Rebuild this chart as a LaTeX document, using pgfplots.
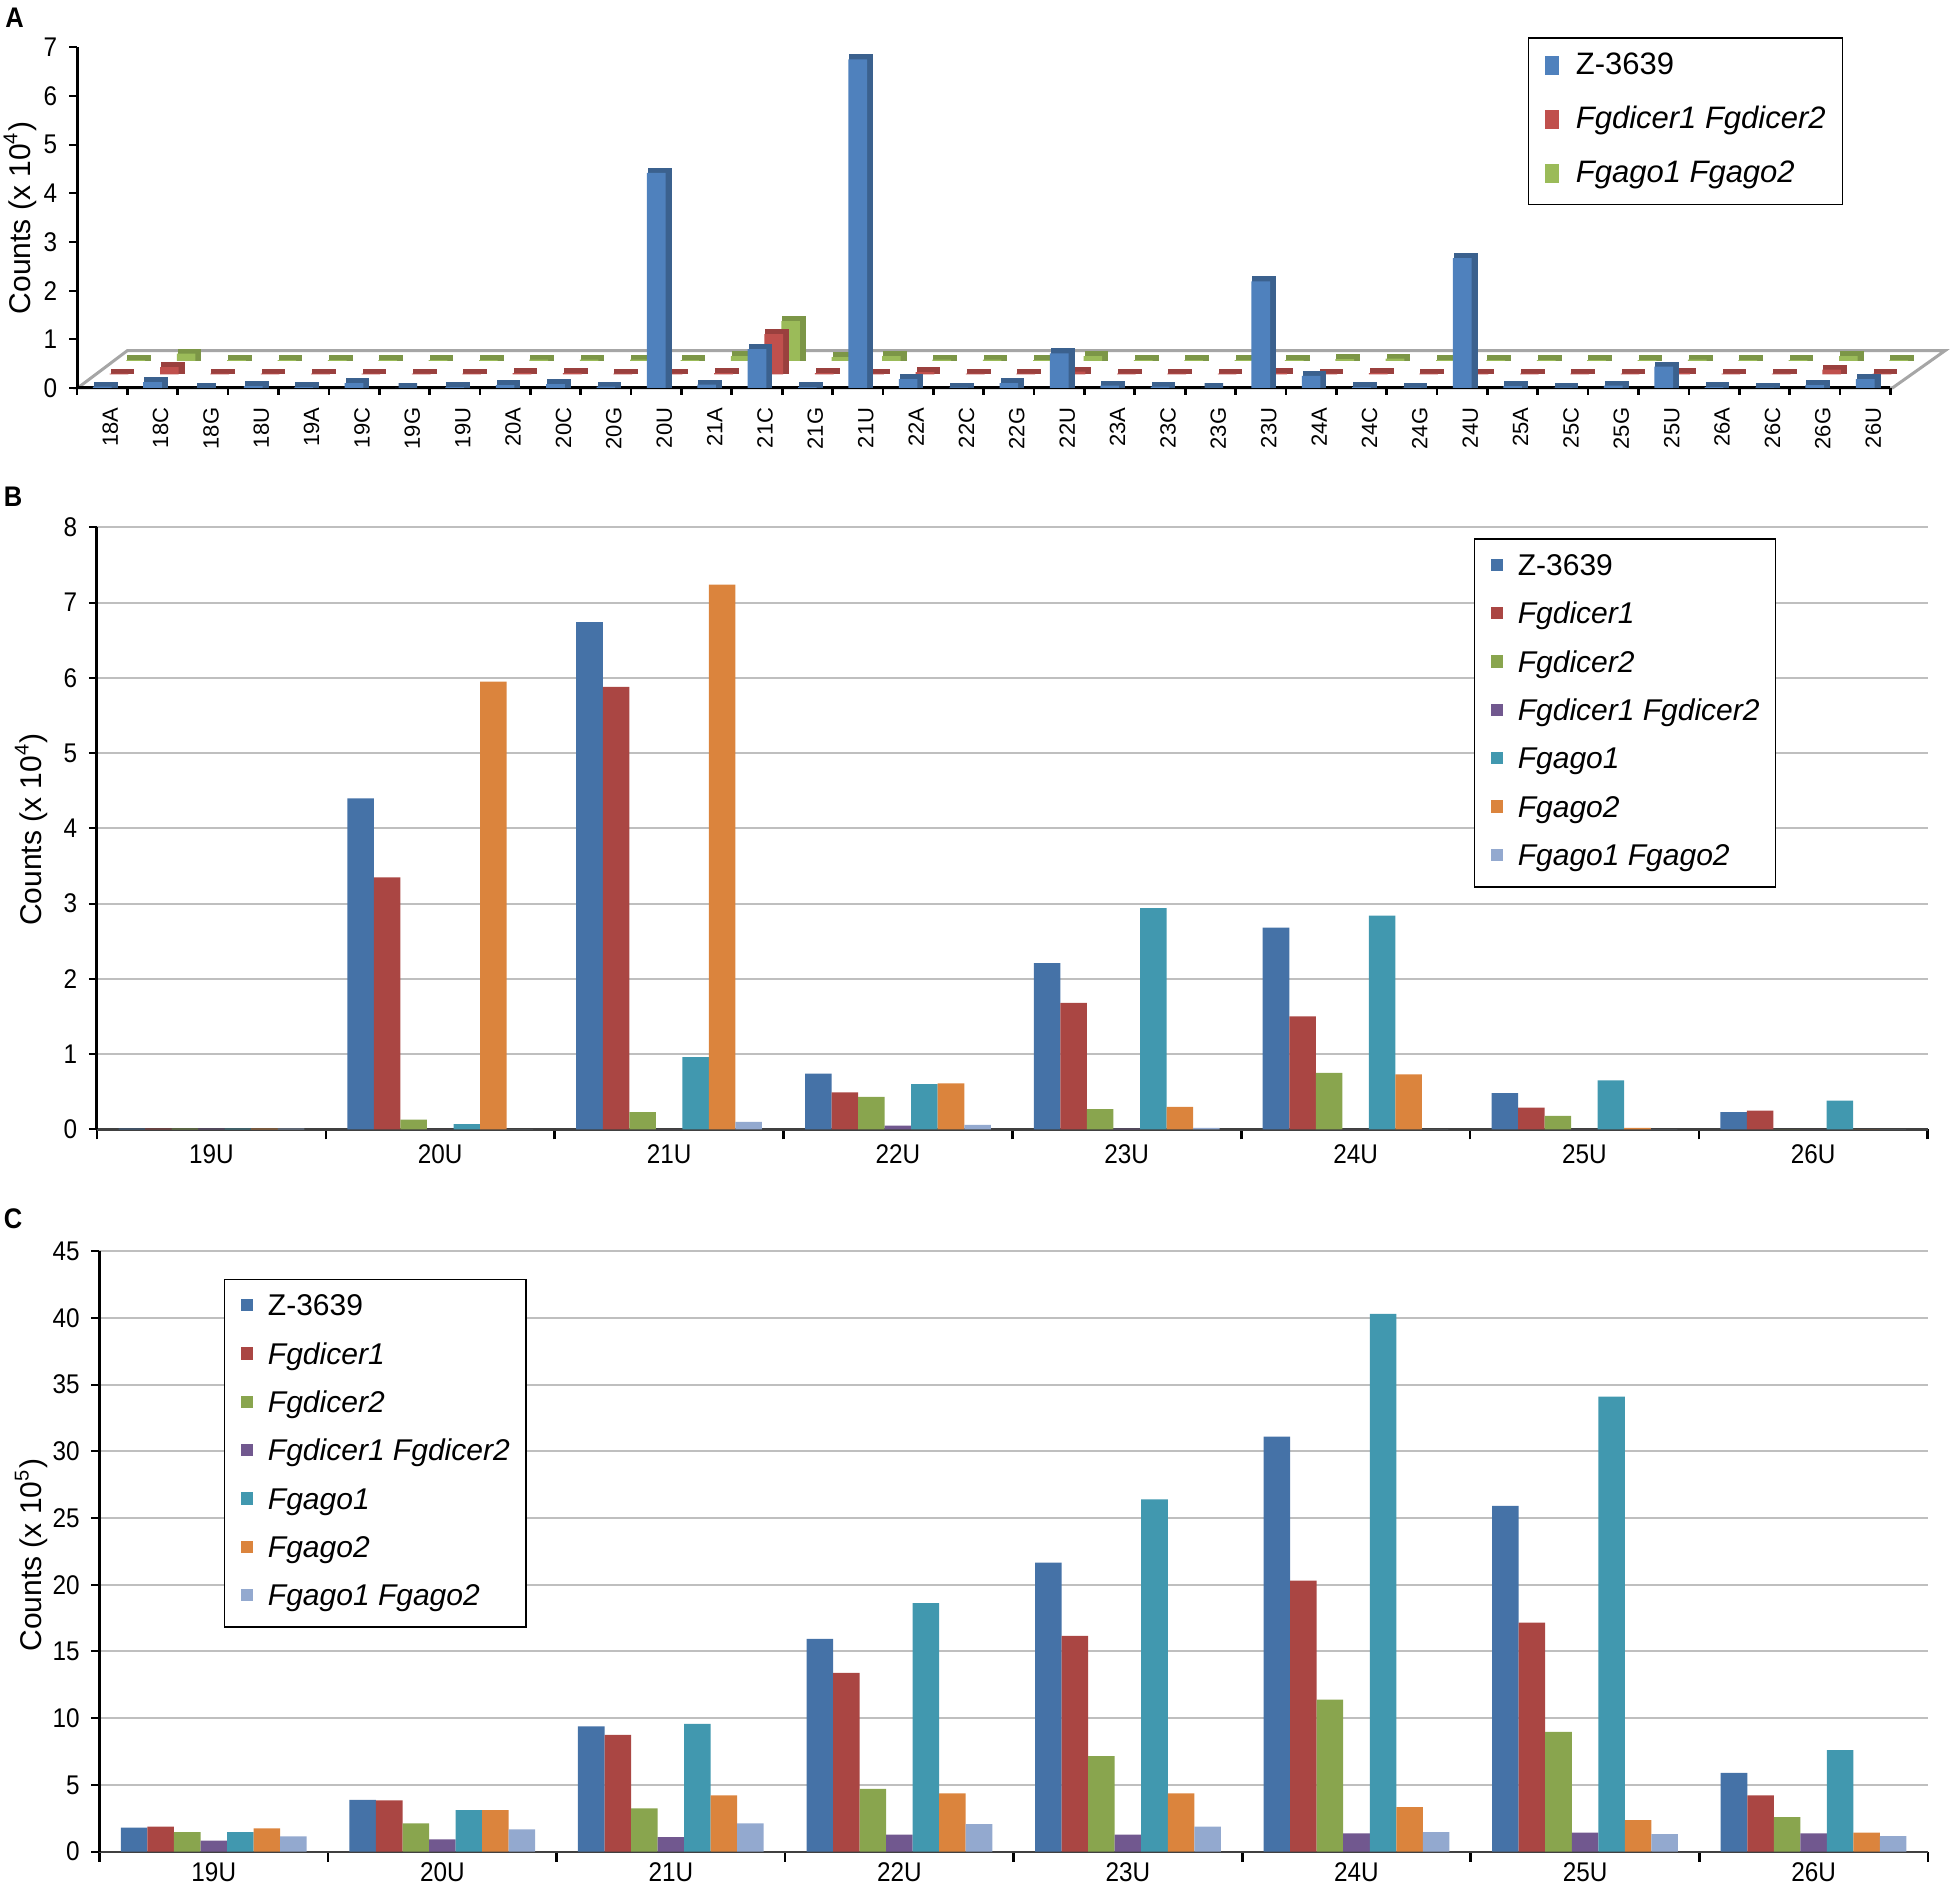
\documentclass[border=0pt]{standalone}
\usepackage{fontspec}
\setmainfont{Liberation Sans}
\newfontfamily\narrowfont{Liberation Sans}[FakeStretch=0.9]
\usepackage{pgfplots}
\pgfplotsset{compat=1.18}
\usepackage{pgfplotstable}

\definecolor{aBlue}{HTML}{4F81BD}
\definecolor{aRed}{HTML}{C0504D}
\definecolor{aGreen}{HTML}{9BBB59}
\definecolor{cZ}{HTML}{4572A7}
\definecolor{cDa}{HTML}{AA4643}
\definecolor{cDb}{HTML}{89A54E}
\definecolor{cDab}{HTML}{71588F}
\definecolor{cGa}{HTML}{4198AF}
\definecolor{cGb}{HTML}{DB843D}
\definecolor{cGab}{HTML}{93A9CF}

% Panel A: x blue(Z-3639) red(Fgdicer1 Fgdicer2) green(Fgago1 Fgago2), x 10^4
\pgfplotstableread{
x blue red green
0 0.03 0.02 0.02
1 0.12 0.15 0.15
2 0.00 0.02 0.02
3 0.04 0.02 0.02
4 0.02 0.02 0.02
5 0.10 0.02 0.02
6 0.00 0.02 0.02
7 0.02 0.02 0.02
8 0.06 0.03 0.03
9 0.08 0.03 0.03
10 0.03 0.02 0.03
11 4.42 0.02 0.02
12 0.07 0.03 0.10
13 0.80 0.83 0.82
14 0.02 0.03 0.08
15 6.75 0.02 0.10
16 0.18 0.05 0.03
17 0.01 0.02 0.03
18 0.10 0.02 0.02
19 0.71 0.06 0.10
20 0.05 0.02 0.02
21 0.03 0.02 0.02
22 0.00 0.02 0.02
23 2.19 0.03 0.02
24 0.25 0.02 0.04
25 0.02 0.03 0.05
26 0.01 0.02 0.02
27 2.67 0.02 0.02
28 0.04 0.02 0.02
29 0.01 0.02 0.02
30 0.05 0.02 0.02
31 0.44 0.03 0.03
32 0.02 0.02 0.02
33 0.01 0.02 0.02
34 0.06 0.10 0.10
35 0.18 0.02 0.02
}\tabA

% Panel B, x 10^4
\pgfplotstableread{
x Z Da Db Dab Ga Gb Gab
0 0.01 0.01 0.01 0.01 0.01 0.01 0.01
1 4.40 3.35 0.13 0.00 0.07 5.95 0.00
2 6.74 5.88 0.23 0.00 0.96 7.24 0.10
3 0.74 0.49 0.43 0.05 0.60 0.61 0.06
4 2.21 1.68 0.27 0.01 2.94 0.30 0.02
5 2.68 1.50 0.75 0.00 2.84 0.73 0.00
6 0.48 0.29 0.18 0.00 0.65 0.02 0.00
7 0.23 0.25 0.00 0.00 0.38 0.00 0.00
}\tabB

% Panel C, x 10^5
\pgfplotstableread{
x Z Da Db Dab Ga Gb Gab
0 1.80 1.87 1.47 0.82 1.47 1.75 1.15
1 3.89 3.84 2.12 0.92 3.12 3.12 1.67
2 9.38 8.75 3.24 1.10 9.58 4.21 2.12
3 15.94 13.39 4.71 1.27 18.63 4.36 2.07
4 21.65 16.16 7.16 1.27 26.40 4.36 1.87
5 31.10 20.30 11.40 1.37 40.30 3.34 1.47
6 25.90 17.16 8.98 1.42 34.10 2.37 1.32
7 5.91 4.21 2.59 1.37 7.61 1.42 1.17
}\tabC

\pgfplotsset{
  tickfont/.style={font=\fontsize{8.1}{9}\narrowfont},
  aax/.style={scale only axis, width=544pt, height=102.2pt,
    xmin=-0.5, xmax=35.5, ymin=0, ymax=7, clip=false, anchor=south west},
  abar/.style={ybar, bar width=5.6pt, bar shift=0pt, draw=none, forget plot},
  % darker "side/top" copy: outline of 1.5pt widens the bar by 0.75pt on every side
  aside/.style={ybar, bar width=5.6pt, bar shift=0pt, forget plot,
    line width=1.5pt, xshift=1.05pt, yshift=0.75pt},
  bax/.style={scale only axis, anchor=south west, clip=false,
    xmin=-0.5, xmax=7.5, ymin=0,
    axis x line*=bottom, axis y line*=left,
    x axis line style={color=black!75, line width=0.7pt},
    y axis line style={color=black, line width=0.9pt},
    tick align=outside,
    major tick length=2.4pt, minor tick length=3pt,
    xtick={0,...,7}, xticklabels={19U,20U,21U,22U,23U,24U,25U,26U},
    minor xtick={-0.5,0.5,...,7.5},
    major x tick style={draw=none},
    minor x tick style={draw=black, line width=0.8pt},
    ytick style={draw=black, line width=0.6pt},
    ymajorgrids, grid style={color=black!25, line width=0.6pt},
    tick label style={tickfont},
    /pgf/number format/assume math mode=true,
    ylabel style={anchor=center, font=\fontsize{9}{10}\selectfont},
    legend cell align=left,
    legend image code/.code={\fill[##1] (0pt,1.3pt) rectangle (3.7pt,5pt);},
    legend style={draw=black, line width=0.5pt, fill=white,
      font=\fontsize{9}{10}\selectfont, inner xsep=4.8pt, inner ysep=4.4pt,
      row sep=6pt, anchor=north west,
      nodes={inner sep=0pt, anchor=base west, text height=6.5pt, text depth=2pt},
      /tikz/every odd column/.append style={column sep=4.5pt}},
  },
  bb/.style={ybar, bar width=7.96pt, draw=none, forget plot},
}

\newcommand{\sevenbars}[1]{%
  \addplot[bb, bar shift=-23.88pt, fill=cZ]   table[x=x,y=Z]{#1};
  \addplot[bb, bar shift=-15.92pt, fill=cDa]  table[x=x,y=Da]{#1};
  \addplot[bb, bar shift=-7.96pt,  fill=cDb]  table[x=x,y=Db]{#1};
  \addplot[bb, bar shift=0pt,      fill=cDab] table[x=x,y=Dab]{#1};
  \addplot[bb, bar shift=7.96pt,   fill=cGa]  table[x=x,y=Ga]{#1};
  \addplot[bb, bar shift=15.92pt,  fill=cGb]  table[x=x,y=Gb]{#1};
  \addplot[bb, bar shift=23.88pt,  fill=cGab] table[x=x,y=Gab]{#1};
  \addlegendimage{fill=cZ, draw=none}\addlegendentry{Z-3639}
  \addlegendimage{fill=cDa, draw=none}\addlegendentry{\textit{Fgdicer1}}
  \addlegendimage{fill=cDb, draw=none}\addlegendentry{\textit{Fgdicer2}}
  \addlegendimage{fill=cDab, draw=none}\addlegendentry{\textit{Fgdicer1 Fgdicer2}}
  \addlegendimage{fill=cGa, draw=none}\addlegendentry{\textit{Fgago1}}
  \addlegendimage{fill=cGb, draw=none}\addlegendentry{\textit{Fgago2}}
  \addlegendimage{fill=cGab, draw=none}\addlegendentry{\textit{Fgago1 Fgago2}}
}

\begin{document}
\begin{tikzpicture}
\useasboundingbox (0,0) rectangle (585pt,565.5pt);

% panel letters
\node[font=\bfseries\fontsize{8.5}{10}\narrowfont] at (4.4pt,560.2pt) {A};
\node[font=\bfseries\fontsize{8.5}{10}\narrowfont] at (3.9pt,416.4pt) {B};
\node[font=\bfseries\fontsize{8.5}{10}\narrowfont] at (3.9pt,199.8pt) {C};

% ---------------- Panel A (3-D look) ----------------
\draw[color=black!35, line width=0.9pt, fill=white]
  (23.3pt,449.1pt) -- (567.7pt,449.1pt) -- (583.5pt,460.3pt) -- (38.2pt,460.3pt) -- cycle;

\begin{axis}[aax, hide axis, at={(33.18pt,457.2pt)}]
\addplot[aside, fill=aGreen!80!black, draw=aGreen!80!black] table[x=x,y=green]{\tabA};
\addplot[abar, fill=aGreen] table[x=x,y=green]{\tabA};
\end{axis}

\begin{axis}[aax, hide axis, at={(28.14pt,453.15pt)}]
\addplot[aside, fill=aRed!80!black, draw=aRed!80!black] table[x=x,y=red]{\tabA};
\addplot[abar, fill=aRed] table[x=x,y=red]{\tabA};
\end{axis}

\begin{axis}[aax, at={(23.1pt,449.1pt)},
    axis x line*=bottom, axis y line*=left,
    x axis line style={color=black, line width=0.9pt},
    y axis line style={color=black, line width=0.9pt},
    tick align=outside, major tick length=2.4pt, minor tick length=2pt,
    ytick={0,...,7}, ytick style={draw=black, line width=0.6pt},
    xtick={0,...,35},
    xticklabels={18A,18C,18G,18U,19A,19C,19G,19U,20A,20C,20G,20U,21A,21C,21G,21U,22A,22C,22G,22U,23A,23C,23G,23U,24A,24C,24G,24U,25A,25C,25G,25U,26A,26C,26G,26U},
    minor xtick={-0.5,0.5,...,35.5},
    major x tick style={draw=none},
    minor x tick style={draw=black, line width=0.8pt},
    yticklabel style={tickfont},
    xticklabel style={font=\fontsize{6.6}{7}\selectfont, rotate=90, anchor=east, yshift=-2.4pt},
    /pgf/number format/assume math mode=true,
    ylabel={Counts (x 10\textsuperscript{4})},
    ylabel style={at={(axis description cs:-0.0314,0.5)}, anchor=center, font=\fontsize{9}{10}\selectfont},
    legend cell align=left,
    legend image code/.code={\fill[#1] (0pt,0pt) rectangle (4pt,5.8pt);},
    legend style={at={(0.80,1.029)}, anchor=north west, draw=black, line width=0.5pt, fill=white,
      font=\fontsize{9.3}{10}\selectfont, inner xsep=5pt, inner ysep=4.3pt,
      row sep=7.3pt,
      nodes={inner sep=0pt, anchor=base west, text height=6.7pt, text depth=2.2pt},
      /tikz/every odd column/.append style={column sep=5.2pt}},
  ]
\addplot[aside, fill=aBlue!75!black, draw=aBlue!75!black] table[x=x,y=blue]{\tabA};
\addplot[abar, fill=aBlue] table[x=x,y=blue]{\tabA};
\addlegendimage{fill=aBlue, draw=none}\addlegendentry{Z-3639}
\addlegendimage{fill=aRed, draw=none}\addlegendentry{\textit{Fgdicer1 Fgdicer2}}
\addlegendimage{fill=aGreen, draw=none}\addlegendentry{\textit{Fgago1 Fgago2}}
\end{axis}

% ---------------- Panel B ----------------
\begin{axis}[bax, at={(29.1pt,226.7pt)}, width=549.2pt, height=180.6pt,
    ymax=8, ytick={0,...,8},
    xticklabel style={yshift=1.2pt},
    ylabel={Counts (x 10\textsuperscript{4})},
    ylabel style={at={(axis description cs:-0.036,0.498)}},
    legend style={at={(0.752,0.982)}},
  ]
\sevenbars{\tabB}
\end{axis}

% ---------------- Panel C ----------------
\begin{axis}[bax, at={(29.85pt,10pt)}, width=548.5pt, height=180.2pt,
    ymax=45, ytick={0,5,...,45},
    xticklabel style={inner sep=0pt, yshift=-0.6pt},
    ylabel={Counts (x 10\textsuperscript{5})},
    ylabel style={at={(axis description cs:-0.0374,0.494)}},
    legend style={at={(0.068,0.954)}},
  ]
\sevenbars{\tabC}
\end{axis}
\end{tikzpicture}
\end{document}
